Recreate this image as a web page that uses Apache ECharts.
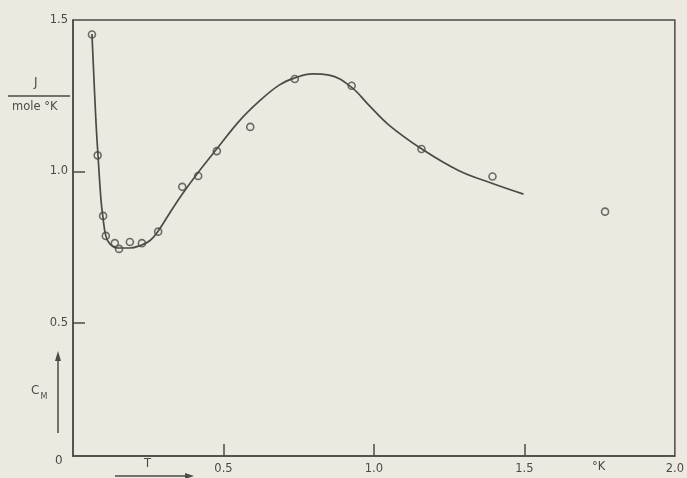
<!DOCTYPE html>
<html><head><meta charset="utf-8">
<script src="https://cdn.jsdelivr.net/npm/echarts@6/dist/echarts.min.js"></script>
<style>html,body{margin:0;padding:0;background:#ece9e0;} #c{width:687px;height:478px;}</style>
</head><body><div id="c"></div>
<script>
// Measured points: temperature T (°K) and molar heat capacity C_M (J/mole °K)
const pointT = [0.063, 0.082, 0.100, 0.109, 0.139, 0.153, 0.189, 0.229, 0.283, 0.363, 0.416, 0.478, 0.589, 0.737, 0.926, 1.158, 1.394, 1.768];
const pointC = [1.452, 1.053, 0.853, 0.787, 0.763, 0.744, 0.767, 0.763, 0.801, 0.949, 0.985, 1.067, 1.147, 1.305, 1.283, 1.074, 0.983, 0.867];
// Smooth drawn curve
const curveT = [0.063, 0.076, 0.083, 0.093, 0.099, 0.109, 0.123, 0.149, 0.189, 0.228, 0.255, 0.281, 0.321, 0.361, 0.417, 0.480, 0.553, 0.619, 0.685, 0.735, 0.795, 0.851, 0.924, 0.983, 1.050, 1.159, 1.281, 1.394, 1.497];
const curveC = [1.454, 1.170, 1.054, 0.906, 0.853, 0.787, 0.760, 0.747, 0.747, 0.757, 0.771, 0.800, 0.862, 0.922, 0.998, 1.077, 1.167, 1.232, 1.285, 1.308, 1.322, 1.318, 1.279, 1.219, 1.153, 1.074, 1.003, 0.960, 0.925];
const xTickValues = [0.5, 1.0, 1.5];
const xLabelValues = [0.5, 1.0, 1.5, 2.0];
const yTickValues = [0.5, 1.0];
const yLabelValues = [0.5, 1.0, 1.5];

const ink = '#4b4b46';
const bg = '#ece9e0';
const font = 'DejaVu Sans';

const chart = echarts.init(document.getElementById('c'), null, {renderer: 'canvas'});
chart.setOption({
  animation: false,
  backgroundColor: bg,
  textStyle: {fontFamily: font},
  grid: {left: 73, right: 10, top: 20, bottom: 22, show: true, borderColor: ink, borderWidth: 1.5, backgroundColor: 'transparent'},
  xAxis: {
    type: 'value', min: 0, max: 2.0,
    axisLine: {show: true, lineStyle: {color: ink, width: 1.5}},
    axisTick: {show: true, inside: true, length: 12, customValues: xTickValues, lineStyle: {color: ink, width: 1.5}},
    axisLabel: {customValues: xLabelValues, formatter: v => v.toFixed(1), color: ink, fontSize: 11.5, margin: 7, fontFamily: font},
    splitLine: {show: false}
  },
  yAxis: {
    type: 'value', min: 0.06, max: 1.5,
    axisLine: {show: true, lineStyle: {color: ink, width: 1.5}},
    axisTick: {show: true, inside: true, length: 12, customValues: yTickValues, lineStyle: {color: ink, width: 1.5}},
    axisLabel: {customValues: yLabelValues, formatter: v => v.toFixed(1), color: ink, fontSize: 11.5, margin: 5, fontFamily: font},
    splitLine: {show: false}
  },
  series: [
    {
      type: 'line', smooth: 0.4, showSymbol: false,
      data: curveT.map((t, i) => [t, curveC[i]]),
      lineStyle: {color: ink, width: 1.7}
    },
    {
      type: 'scatter', symbol: 'circle', symbolSize: 7,
      data: pointT.map((t, i) => [t, pointC[i]]),
      itemStyle: {color: bg, borderColor: ink, borderWidth: 1.6}
    }
  ],
  graphic: [
    {type: 'text', left: 55, top: 455, style: {text: '0', fill: ink, font: '12px ' + font}},
    {type: 'text', left: 592, top: 461, style: {text: '°K', fill: ink, font: '11.5px ' + font}},
    {type: 'text', left: 144, top: 458, style: {text: 'T', fill: ink, font: '11.5px ' + font}},
    {type: 'line', shape: {x1: 115, y1: 476, x2: 188, y2: 476}, style: {stroke: ink, lineWidth: 1.5}},
    {type: 'polygon', shape: {points: [[194, 476], [185, 473], [185, 479]]}, style: {fill: ink}},
    {type: 'text', left: 34, top: 77, style: {text: 'J', fill: ink, font: '12px ' + font}},
    {type: 'line', shape: {x1: 8, y1: 96, x2: 70, y2: 96}, style: {stroke: ink, lineWidth: 1.3}},
    {type: 'text', left: 12, top: 101, style: {text: 'mole °K', fill: ink, font: '11.5px ' + font}},
    {type: 'text', left: 31, top: 385, style: {
      text: '{c|C}{m|M}', rich: {c: {fill: ink, font: '12px ' + font, verticalAlign: 'top'}, m: {fill: ink, font: '8px ' + font, padding: [8, 0, 0, 1]}}
    }},
    {type: 'line', shape: {x1: 58, y1: 433, x2: 58, y2: 358}, style: {stroke: ink, lineWidth: 1.5}},
    {type: 'polygon', shape: {points: [[58, 351], [55, 361], [61, 361]]}, style: {fill: ink}}
  ]
});
</script>
</body></html>
